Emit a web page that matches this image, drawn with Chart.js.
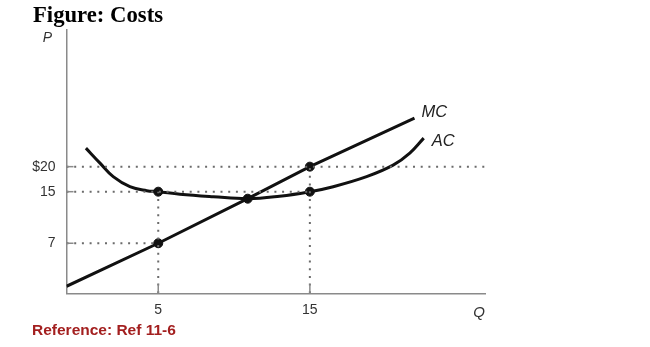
<!DOCTYPE html>
<html lang="en">
<head>
  <meta charset="UTF-8">
  <title>Figure: Costs</title>
  <script src="https://cdn.jsdelivr.net/npm/chart.js"></script>
  <style>
    body { margin: 0; background: #fff; }
    .wrap { position: relative; width: 650px; height: 347px; }
    canvas { position: absolute; left: 0; top: 0; }
    .fig-title {
      position: absolute; left: 33px; top: 4px;
      font-family: "Liberation Serif", "Times New Roman", serif;
      font-weight: bold; font-size: 22.7px; line-height: 22.7px; color: #000;
    }
    .fig-ref {
      position: absolute; left: 32px; top: 322px;
      font-family: "Liberation Sans", Arial, sans-serif;
      font-weight: bold; font-size: 15.5px; line-height: 15.5px; color: #a31f1f;
    }
  </style>
</head>
<body>
  <div class="wrap">
    <canvas id="costs" width="650" height="347"></canvas>
    <div class="fig-title">Figure: Costs</div>
    <div class="fig-ref">Reference: Ref 11-6</div>
  </div>
  <script>
    // axis ticks (price axis is a sketch, so the "7" sits lower than a true linear scale)
    const quantityTicks = [5, 15];
    const priceTickValues = [20, 15, 4.7];
    const priceTickLabels = ['$20', '15', '7'];

    // marginal cost
    const mcQ = [-1.05, 5, 10.9, 15, 21.9];
    const mcP = [-3.9, 4.7, 13.6, 20, 29.7];

    // average cost (U shape)
    const acQ = [0.23, 1.16, 2.03, 3.13, 4.24, 5, 6.43, 8.63, 10.9, 13.0, 15, 16.54, 18.74, 20.49, 21.59, 22.51];
    const acP = [23.7, 20.7, 18.0, 16.0, 15.2, 15, 14.5, 14.0, 13.6, 14.1, 15, 16, 18, 20.3, 22.7, 25.7];

    // highlighted points
    const markQ = [5, 5, 10.9, 15, 15];
    const markP = [15, 4.7, 13.6, 15, 20];

    // dotted guides: horizontal ones run to these Q, vertical ones up to these P
    const Q_MIN = -1.05, Q_MAX = 26.55;
    const P_MIN = -5.3, P_MAX = 47.3;
    const hGuideEnds = [Q_MAX, 15, 5];
    const vGuideTops = [15, 20];

    const toPoints = (xs, ys) => xs.map((x, i) => ({ x: x, y: ys[i] }));

    const guideStyle = {
      borderColor: '#6b6b6b',
      borderWidth: 2,
      borderDash: [2, 5.7],
      borderCapStyle: 'butt',
      pointRadius: 0,
      tension: 0
    };

    const datasets = [];
    priceTickValues.forEach((p, i) => {
      datasets.push(Object.assign({ data: [{ x: Q_MIN, y: p }, { x: hGuideEnds[i], y: p }] }, guideStyle));
    });
    quantityTicks.forEach((q, i) => {
      datasets.push(Object.assign({ data: [{ x: q, y: P_MIN }, { x: q, y: vGuideTops[i] }] }, guideStyle));
    });
    datasets.push({
      label: 'MC',
      data: toPoints(mcQ, mcP),
      borderColor: '#111',
      borderWidth: 3,
      pointRadius: 0,
      tension: 0
    });
    datasets.push({
      label: 'AC',
      data: toPoints(acQ, acP),
      borderColor: '#111',
      borderWidth: 3,
      pointRadius: 0,
      tension: 0.4
    });
    datasets.push({
      data: toPoints(markQ, markP),
      showLine: false,
      pointRadius: 4.5,
      pointBackgroundColor: '#111',
      pointBorderColor: '#111'
    });

    // short inner ticks, the P label and the curve names
    const sketchPlugin = {
      id: 'sketch',
      afterDraw(chart) {
        const ctx = chart.ctx;
        const xs = chart.scales.x, ys = chart.scales.y;
        const area = chart.chartArea;
        ctx.save();
        ctx.strokeStyle = '#8a8a8a';
        ctx.lineWidth = 1.5;
        priceTickValues.forEach(p => {
          const y = ys.getPixelForValue(p);
          ctx.beginPath(); ctx.moveTo(area.left, y); ctx.lineTo(area.left + 7, y); ctx.stroke();
        });
        quantityTicks.forEach(q => {
          const x = xs.getPixelForValue(q);
          ctx.beginPath(); ctx.moveTo(x, area.bottom); ctx.lineTo(x, area.bottom - 9); ctx.stroke();
        });

        ctx.fillStyle = '#333';
        ctx.font = 'italic 14px "Liberation Sans", Arial, sans-serif';
        ctx.textAlign = 'center';
        ctx.textBaseline = 'middle';
        ctx.fillText('P', area.left - 19, area.top + 8);

        ctx.fillStyle = '#222';
        ctx.font = 'italic 16.5px "Liberation Sans", Arial, sans-serif';
        ctx.textAlign = 'left';
        const mcEnd = chart.getDatasetMeta(datasets.length - 3).data.slice(-1)[0];
        const acEnd = chart.getDatasetMeta(datasets.length - 2).data.slice(-1)[0];
        ctx.fillText('MC', mcEnd.x + 7, mcEnd.y - 6);
        ctx.fillText('AC', acEnd.x + 8, acEnd.y + 3);
        ctx.restore();
      }
    };

    new Chart(document.getElementById('costs'), {
      type: 'line',
      data: { datasets: datasets },
      plugins: [sketchPlugin],
      options: {
        responsive: false,
        animation: false,
        devicePixelRatio: 1,
        layout: { padding: { left: 0, top: 30, right: 165, bottom: 0 } },
        plugins: { legend: { display: false }, tooltip: { enabled: false } },
        scales: {
          x: {
            type: 'linear',
            min: Q_MIN,
            max: Q_MAX,
            grid: { display: false, drawTicks: false },
            border: { display: true, color: '#8a8a8a', width: 1.5 },
            afterFit: s => { s.height = 347 - 293.3; },
            afterBuildTicks: s => { s.ticks = quantityTicks.map(v => ({ value: v })); },
            ticks: {
              padding: 8,
              color: '#333',
              font: { family: '"Liberation Sans", Arial, sans-serif', size: 14 },
              maxRotation: 0
            },
            title: {
              display: true,
              text: 'Q',
              align: 'end',
              color: '#333',
              font: { family: '"Liberation Sans", Arial, sans-serif', size: 15, style: 'italic' },
              padding: { top: 0, bottom: 25 }
            }
          },
          y: {
            type: 'linear',
            min: P_MIN,
            max: P_MAX,
            grid: { display: false, drawTicks: false },
            border: { display: true, color: '#8a8a8a', width: 1.5 },
            afterFit: s => { s.width = 66.5; },
            afterBuildTicks: s => { s.ticks = priceTickValues.map(v => ({ value: v })); },
            ticks: {
              padding: 11,
              color: '#333',
              font: { family: '"Liberation Sans", Arial, sans-serif', size: 14 },
              callback: (v) => priceTickLabels[priceTickValues.indexOf(v)]
            }
          }
        }
      }
    });
  </script>
</body>
</html>
